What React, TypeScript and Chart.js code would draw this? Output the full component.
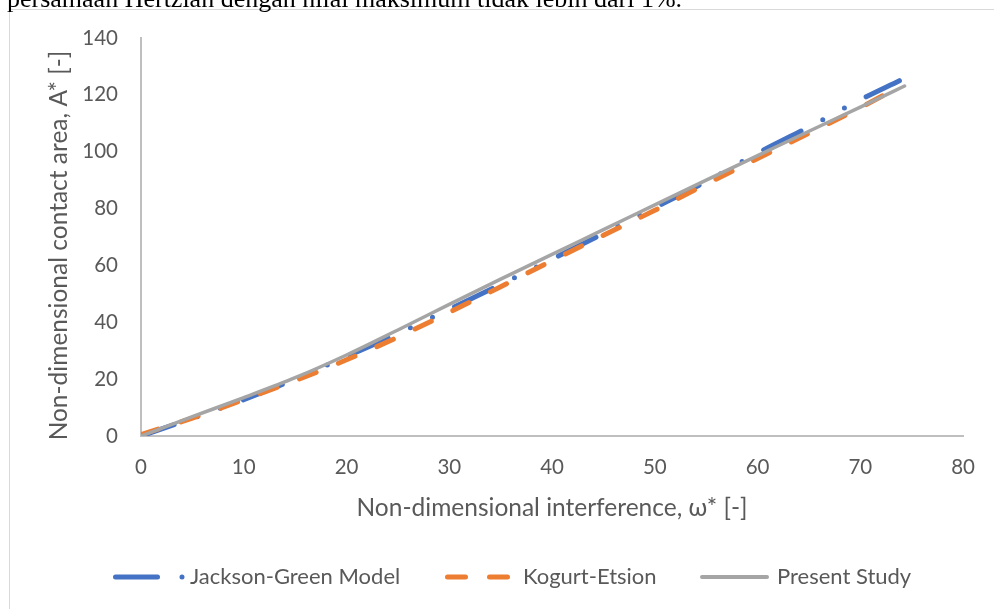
import { useEffect, useRef } from "react";
import { Chart, registerables } from "chart.js";

Chart.register(...registerables);

// ---- data ----
const presentX = [0, 5, 10, 15, 20, 25, 30, 35, 40, 45, 50, 55, 60, 65, 70, 74.3];
const presentY = [0, 6.8, 13.5, 20.5, 28.5, 37.3, 46.3, 55.2, 63.9, 72.6, 81.3, 90, 98.6, 107.2, 115.7, 123.1];

const jacksonX = [0, 5, 10, 15, 20, 25, 30, 35, 40, 45, 50, 55, 60, 65, 70, 73.8];
const jacksonY = [0, 6.2, 12.8, 20, 28, 36, 44.6, 53.3, 62.2, 71.2, 80.3, 89.5, 99.5, 108.7, 118.3, 125];

const kogurtX = [0, 5, 10, 15, 20, 25, 30, 35, 40, 45, 50, 55, 60, 65, 70, 73.6];
const kogurtY = [0.5, 6.3, 12.8, 19.5, 26.8, 34.8, 43.5, 52.5, 61.7, 70.6, 79.4, 88.6, 97.6, 106.5, 115.5, 122.5];

const seriesNames = ["Jackson-Green Model", "Kogurt-Etsion", "Present Study"];
const xTitle = "Non-dimensional interference, \u03c9* [-]";
const yTitle = "Non-dimensional contact area, A* [-]";
const caption = "persamaan Hertzian dengan nilai maksimum tidak lebih dari 1%.";

const X_MIN = 0, X_MAX = 80, X_STEP = 10;
const Y_MIN = 0, Y_MAX = 140, Y_STEP = 20;

const FONT = "Lato, 'Open Sans', sans-serif";
const TEXT = "#595959";
const BLUE = "#4472c4";
const ORANGE = "#ed7d31";
const GRAY = "#a5a5a5";
const BLUE_DASH = [42, 24.5, 0, 24.5, 0, 24.5];
const ORANGE_DASH = [18, 24];

const toPoints = (xs: number[], ys: number[]) => xs.map((x, i) => ({ x, y: ys[i] }));

const decor = {
  id: "decor",
  beforeDraw(chart: any) {
    const ctx = chart.ctx as CanvasRenderingContext2D;
    ctx.save();
    ctx.fillStyle = "#ffffff";
    ctx.fillRect(0, 0, chart.width, chart.height);
    ctx.strokeStyle = "#d9d9d9";
    ctx.lineWidth = 1;
    ctx.strokeRect(9.5, 9.5, chart.width + 50, chart.height + 50);
    ctx.restore();
  },
  afterDraw(chart: any) {
    const ctx = chart.ctx as CanvasRenderingContext2D;
    const area = chart.chartArea;
    ctx.save();
    ctx.fillStyle = TEXT;
    // x title
    ctx.font = `24.5px ${FONT}`;
    ctx.textAlign = "center";
    ctx.textBaseline = "alphabetic";
    ctx.fillText(xTitle, (area.left + area.right) / 2, 516);
    // y title
    ctx.save();
    ctx.translate(67, 245.5);
    ctx.rotate(-Math.PI / 2);
    ctx.fillText(yTitle, 0, 0);
    ctx.restore();

    // legend
    const ly = 577;
    const items = [
      { sx: 113, ex: 188, tx: 190, color: BLUE, dash: BLUE_DASH, w: 5 },
      { sx: 445, ex: 510, tx: 523, color: ORANGE, dash: ORANGE_DASH, w: 5 },
      { sx: 700, ex: 769, tx: 777, color: GRAY, dash: [] as number[], w: 4 },
    ];
    items.forEach((it, i) => {
      ctx.save();
      ctx.strokeStyle = it.color;
      ctx.lineWidth = it.w;
      ctx.lineCap = "round";
      ctx.setLineDash(it.dash);
      ctx.beginPath();
      ctx.moveTo(it.sx + it.w / 2, ly);
      ctx.lineTo(it.ex - it.w / 2, ly);
      ctx.stroke();
      ctx.restore();
      ctx.font = `22px ${FONT}`;
      ctx.textAlign = "left";
      ctx.textBaseline = "middle";
      ctx.fillStyle = TEXT;
      ctx.fillText(seriesNames[i], it.tx, ly);
    });
    ctx.restore();
  },
};

export default function App() {
  const ref = useRef<HTMLCanvasElement>(null);

  useEffect(() => {
    const chart = new Chart(ref.current as HTMLCanvasElement, {
      type: "line",
      data: {
        datasets: [
          {
            label: seriesNames[0],
            data: toPoints(jacksonX, jacksonY),
            borderColor: BLUE,
            backgroundColor: BLUE,
            borderWidth: 5,
            borderDash: BLUE_DASH,
            borderDashOffset: 7,
            borderCapStyle: "round",
            pointRadius: 0,
            cubicInterpolationMode: "monotone",
            fill: false,
            order: 3,
          },
          {
            label: seriesNames[1],
            data: toPoints(kogurtX, kogurtY),
            borderColor: ORANGE,
            backgroundColor: ORANGE,
            borderWidth: 5,
            borderDash: ORANGE_DASH,
            borderCapStyle: "round",
            pointRadius: 0,
            cubicInterpolationMode: "monotone",
            fill: false,
            order: 2,
          },
          {
            label: seriesNames[2],
            data: toPoints(presentX, presentY),
            borderColor: GRAY,
            backgroundColor: GRAY,
            borderWidth: 3.5,
            borderCapStyle: "round",
            pointRadius: 0,
            cubicInterpolationMode: "monotone",
            fill: false,
            order: 1,
          },
        ],
      } as any,
      options: {
        animation: false,
        responsive: false,
        maintainAspectRatio: false,
        layout: { padding: { top: 38, right: 29, left: 0, bottom: 0 } },
        plugins: {
          legend: { display: false },
          tooltip: { enabled: false },
          title: { display: false },
        },
        scales: {
          x: {
            type: "linear",
            min: X_MIN,
            max: X_MAX,
            ticks: {
              stepSize: X_STEP,
              color: TEXT,
              font: { family: FONT, size: 20.5 },
              padding: 19,
              maxRotation: 0,
              autoSkip: false,
            },
            grid: { drawOnChartArea: false, drawTicks: false, color: "rgba(0,0,0,0)" },
            border: { display: true, color: "#bfbfbf", width: 2 },
            afterFit: (s: any) => {
              s.height = 173;
            },
          },
          y: {
            type: "linear",
            min: Y_MIN,
            max: Y_MAX,
            ticks: {
              stepSize: Y_STEP,
              color: TEXT,
              font: { family: FONT, size: 20.5 },
              padding: 23,
            },
            grid: { drawOnChartArea: false, drawTicks: false, color: "rgba(0,0,0,0)" },
            border: { display: true, color: "#bfbfbf", width: 2 },
            afterFit: (s: any) => {
              s.width = 141;
            },
          },
        },
      } as any,
      plugins: [decor],
    });
    return () => chart.destroy();
  }, []);

  return (
    <div
      style={{
        position: "absolute",
        left: 0,
        top: 0,
        width: 994,
        height: 609,
        overflow: "hidden",
        background: "#ffffff",
      }}
    >
      <canvas ref={ref} width={994} height={609} style={{ position: "absolute", left: 0, top: 0, display: "block" }} />
      <div
        style={{
          position: "absolute",
          left: 7,
          top: -14,
          fontFamily: "'Liberation Serif', 'Times New Roman', serif",
          fontSize: 26,
          lineHeight: "26px",
          whiteSpace: "nowrap",
          color: "#000",
        }}
      >
        {caption}
      </div>
    </div>
  );
}
